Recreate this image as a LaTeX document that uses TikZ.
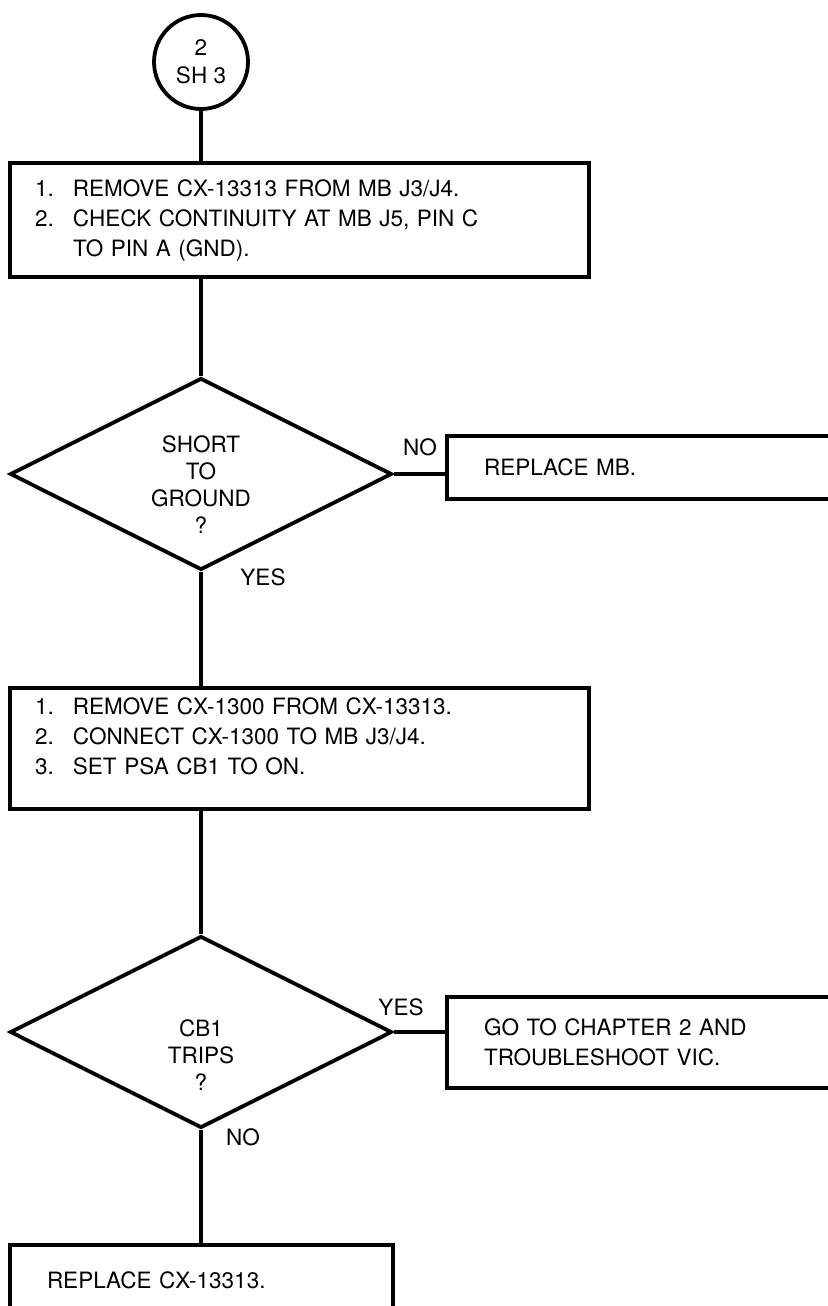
\documentclass[tikz,border=0pt]{standalone}
\usepackage{fontspec}
\setmainfont{TeX Gyre Heros}
\usetikzlibrary{shapes.geometric}
\newcommand{\stepno}[1]{\makebox[38pt][l]{#1}}

\begin{document}
\begin{tikzpicture}[x=1pt, y=-1pt, line width=3.8pt,
  sheet/.style={draw, circle, minimum size=94pt, inner sep=0pt, align=center,
    font=\fontsize{22.5}{28}\selectfont},
  stepbox/.style={draw, rectangle, align=left, inner ysep=0pt,
    font=\fontsize{22.5}{30}\selectfont},
  decision/.style={draw, diamond, inner sep=0pt,
    minimum width=382pt, minimum height=192pt},
  qtext/.style={align=center, font=\fontsize{22.5}{27}\selectfont},
  lbl/.style={font=\fontsize{22.5}{27}\selectfont}
]
  \useasboundingbox (0,0) rectangle (827,1306);

  % off-sheet connector and first checks
  \node[sheet] (offsheet) at (201,62) {2\\SH 3};
  \node[stepbox, text width=529pt, inner xsep=25pt, minimum height=114pt]
    (remove) at (299.5,220)
    {\stepno{1.}REMOVE CX-13313 FROM MB J3/J4.\\
     \stepno{2.}CHECK CONTINUITY AT MB J5, PIN C\\
     \stepno{}TO PIN A (GND).};

  % short to ground ?
  \node[decision] (short) at (201,474) {};
  \node[qtext] (shortq) at (201,485) {SHORT\\TO\\GROUND\\?};
  \node[stepbox, text width=379pt, inner xsep=37pt, minimum height=63pt]
    (replmb) at (673.5,467.5) {REPLACE MB.};
  \node[lbl] (shortno) at (420,447) {NO};
  \node[lbl] (shortyes) at (263,577) {YES};

  \node[stepbox, text width=529pt, inner xsep=25pt, minimum height=121pt]
    (connect) at (299.5,748.5)
    {\stepno{1.}REMOVE CX-1300 FROM CX-13313.\\
     \stepno{2.}CONNECT CX-1300 TO MB J3/J4.\\
     \stepno{3.}SET PSA CB1 TO ON.\rule[-25pt]{0pt}{0pt}};

  % cb1 trips ?
  \node[decision] (trips) at (201,1032) {};
  \node[qtext] (tripsq) at (201,1055) {CB1\\TRIPS\\?};
  \node[stepbox, text width=379pt, inner xsep=37pt, minimum height=91pt]
    (gotovic) at (673.5,1042.5) {GO TO CHAPTER 2 AND\\TROUBLESHOOT VIC.};
  \node[lbl] (tripsyes) at (401,1007) {YES};
  \node[lbl] (tripsno) at (243,1137) {NO};
  \node[stepbox, text width=309pt, inner xsep=37pt, minimum height=70pt]
    (replcx) at (201.5,1280) {REPLACE CX-13313.};

  % flow lines
  \draw (offsheet.south) -- (offsheet.south |- remove.north);
  \draw (short.north |- remove.south) -- (short.north);
  \draw (short.east) -- (replmb.west |- short.east);
  \draw (short.south) -- (short.south |- connect.north);
  \draw (trips.north |- connect.south) -- (trips.north);
  \draw (trips.east) -- (gotovic.west |- trips.east);
  \draw (trips.south) -- (trips.south |- replcx.north);
\end{tikzpicture}
\end{document}
